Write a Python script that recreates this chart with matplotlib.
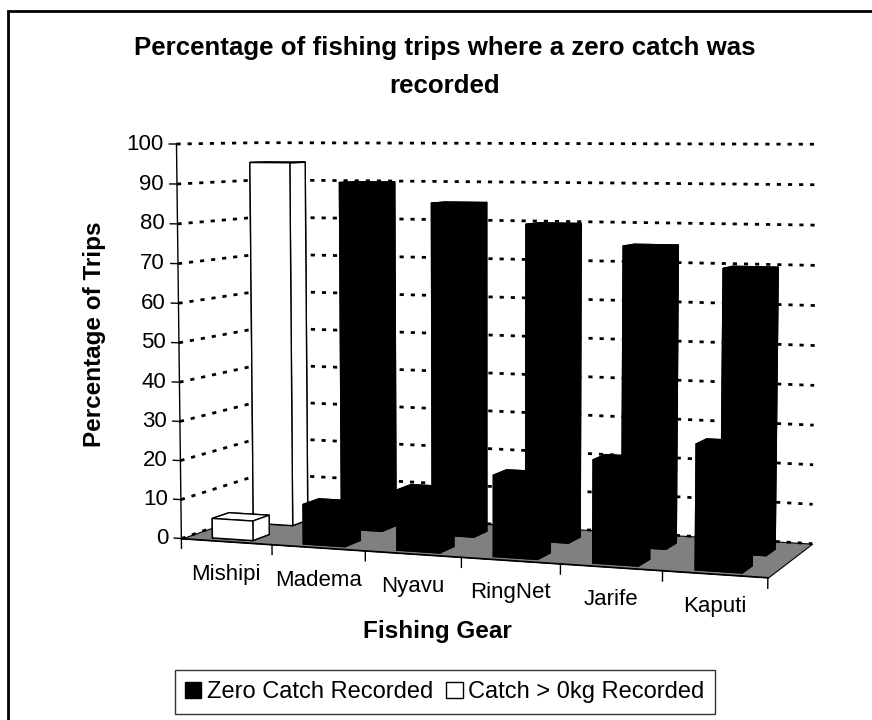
import matplotlib
matplotlib.use("Agg")
import matplotlib.pyplot as plt
import numpy as np
from matplotlib.patches import Patch, Rectangle
from mpl_toolkits.mplot3d import proj3d
from mpl_toolkits.mplot3d.art3d import Poly3DCollection

plt.rcParams['font.family'] = ['Liberation Sans', 'DejaVu Sans']

# data
gears = ['Mishipi', 'Madema', 'Nyavu', 'RingNet', 'Jarife', 'Kaputi']
zero_catch = [5, 10, 15, 20, 25, 30]        # front row
catch_recorded = [95, 90, 85, 80, 75, 70]   # back row
point_colors = ['white', 'black', 'black', 'black', 'black', 'black']
yticks = list(range(0, 101, 10))

W, H = 872, 720
fig = plt.figure(figsize=(W / 100, H / 100), dpi=100)
# chart border (right/bottom edges fall outside the picture)
fig.add_artist(Rectangle((8 / W, -10 / H), 880 / W, 719 / H,
                         transform=fig.transFigure, fill=False,
                         edgecolor='black', linewidth=2))

# 3d axes are drawn in a square box: S px wide centred on (cx, cy)
S, cx, cy = 729, 485, 354
ax = fig.add_axes([(cx - S / 2) / W, 1 - (cy + S / 2) / H, S / W, S / H],
                  projection='3d')
ax.set_proj_type('persp', focal_length=0.6)
ax.view_init(elev=5.3, azim=-70)
ax.set_box_aspect((6.4, 2.0, 4.2), zoom=1.0)
ax.set_xlim(0, 6)
ax.set_ylim(0, 2)
ax.set_zlim(0, 100)
ax.set_axis_off()
ax.patch.set_visible(False)
ax.computed_zorder = False

n = len(gears)
# floor
floor = Poly3DCollection([[(0, 0, 0), (n, 0, 0), (n, 2, 0), (0, 2, 0)]],
                         facecolor='#808080', edgecolor='black', linewidth=0.8)
floor.set_zorder(1)
ax.add_collection3d(floor)

# gridlines on left wall and back wall
for t in yticks:
    ax.plot([0, 0, n], [0, 2, 2], [t, t, t], color='black',
            linestyle=(0, (1.5, 2.5)), linewidth=2, zorder=2)

# bars
w, d = 0.45, 0.4
xs, ys, hs, cols = [], [], [], []
for row, vals in enumerate([zero_catch, catch_recorded]):
    for i, v in enumerate(vals):
        xs.append(i + 0.5 - w / 2)
        ys.append(row + 0.35 - d / 2)
        hs.append(v)
        cols.append(point_colors[i])
ax.bar3d(xs, ys, np.zeros(len(xs)), w, d, hs, color=cols,
         edgecolor='black', linewidth=1, shade=False, zorder=3)

# axes lines and ticks
ax.plot([0, 0], [0, 0], [0, 100], color='black', linewidth=1, zorder=4)
ax.plot([0, n], [0, 0], [0, 0], color='black', linewidth=1, zorder=4)
for t in yticks:
    ax.plot([-0.08, 0], [0, 0], [t, t], color='black', linewidth=1, zorder=4)
for i in range(n + 1):
    ax.plot([i, i], [0, 0], [0, -2.5], color='black', linewidth=1, zorder=4)

M = ax.get_proj()
for t in yticks:
    px, py, _ = proj3d.proj_transform(0, 0, t, M)
    ax.annotate(str(t), xy=(px, py), xycoords='data', xytext=(-13, 0),
                textcoords='offset pixels', ha='right', va='center',
                fontsize=16, annotation_clip=False)
for i, g in enumerate(gears):
    px, py, _ = proj3d.proj_transform(i + 0.5, 0, 0, M)
    ax.annotate(g, xy=(px, py), xycoords='data', xytext=(0, -22),
                textcoords='offset pixels', ha='center', va='top',
                fontsize=16, annotation_clip=False)

fig.text(445 / W, 1 - 67 / H,
         'Percentage of fishing trips where a zero catch was\nrecorded',
         ha='center', va='center', fontsize=18.6, fontweight='bold', linespacing=1.7)
fig.text(95 / W, 1 - 334 / H, 'Percentage of Trips', rotation=90,
         ha='center', va='center', fontsize=17.5, fontweight='bold')
fig.text(437 / W, 1 - 638 / H, 'Fishing Gear',
         ha='center', va='baseline', fontsize=17.5, fontweight='bold')

handles = [Patch(facecolor='black', edgecolor='black'),
           Patch(facecolor='white', edgecolor='black')]
leg = fig.legend(handles, ['Zero Catch Recorded', 'Catch > 0kg Recorded'],
                 loc='center', bbox_to_anchor=(445 / W, 1 - 692 / H),
                 ncol=2, fontsize=17, frameon=True, fancybox=False,
                 handlelength=0.68, handleheight=0.68, handletextpad=0.25,
                 columnspacing=0.55, borderpad=0.45, borderaxespad=0)
leg.get_frame().set_edgecolor('black')
leg.get_frame().set_linewidth(1)

fig.savefig('out.png', dpi=100)
